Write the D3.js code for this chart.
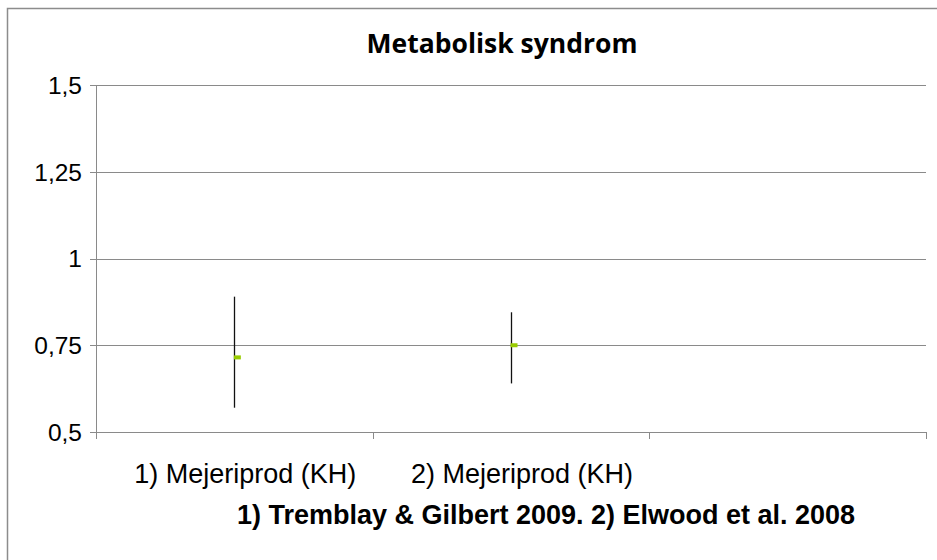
<!DOCTYPE html>
<html>
<head>
<meta charset="utf-8">
<script src="https://cdn.jsdelivr.net/npm/d3@7"></script>
<style>
  body { margin: 0; background: #fff; }
</style>
</head>
<body>
<div class="chart"></div>
<script>
const width = 937, height = 560;

// data
const categories = ["1) Mejeriprod (KH)", "2) Mejeriprod (KH)", ""];
const estimates = [0.715, 0.75];
const lower = [0.57, 0.64];
const upper = [0.89, 0.845];
const yTicks = [0.5, 0.75, 1, 1.25, 1.5];
const yTickLabels = ["0,5", "0,75", "1", "1,25", "1,5"];

const svg = d3.select(".chart").append("svg")
  .attr("width", width)
  .attr("height", height);

// outer frame (left + top edges only show)
svg.append("path")
  .attr("d", "M7.5,560 L7.5,8.5 L937,8.5")
  .attr("stroke", "#8c8c8c")
  .attr("stroke-width", 1.5)
  .attr("fill", "none");

const x = d3.scaleBand()
  .domain(d3.range(categories.length))
  .range([96, 926]);

const y = d3.scaleLinear()
  .domain([0.5, 1.5])
  .range([432, 85]);

// gridlines
svg.selectAll(".grid")
  .data(yTicks)
  .enter().append("line")
  .attr("x1", 90)
  .attr("x2", 926)
  .attr("y1", d => Math.round(y(d)) + 0.5)
  .attr("y2", d => Math.round(y(d)) + 0.5)
  .attr("stroke", "#8a8a8a")
  .attr("stroke-width", 1);

// y axis line
svg.append("line")
  .attr("x1", 96.5).attr("x2", 96.5)
  .attr("y1", y(1.5)).attr("y2", y(0.5) + 1)
  .attr("stroke", "#8a8a8a");

// x axis ticks at band edges
const edges = x.domain().map(i => x(i)).concat([x.range()[1]]);
svg.selectAll(".xtick")
  .data(edges)
  .enter().append("line")
  .attr("x1", d => Math.round(d) + 0.5)
  .attr("x2", d => Math.round(d) + 0.5)
  .attr("y1", y(0.5))
  .attr("y2", y(0.5) + 7)
  .attr("stroke", "#8a8a8a");

// y labels
svg.selectAll(".ylab")
  .data(yTicks)
  .enter().append("text")
  .attr("x", 82)
  .attr("y", d => y(d))
  .attr("dy", "0.36em")
  .attr("text-anchor", "end")
  .attr("font-family", "Liberation Sans, Arial, sans-serif")
  .attr("font-size", 24.5)
  .attr("fill", "#000")
  .text((d, i) => yTickLabels[i]);

// category labels
svg.selectAll(".xlab")
  .data(categories)
  .enter().append("text")
  .attr("x", (d, i) => x(i) + x.bandwidth() / 2 + 11)
  .attr("y", 483)
  .attr("text-anchor", "middle")
  .attr("font-family", "Liberation Sans, Arial, sans-serif")
  .attr("font-size", 27)
  .attr("fill", "#000")
  .text(d => d);

// error bars
svg.selectAll(".err")
  .data(estimates)
  .enter().append("line")
  .attr("x1", (d, i) => Math.round(x(i) + x.bandwidth() / 2) + 0.5)
  .attr("x2", (d, i) => Math.round(x(i) + x.bandwidth() / 2) + 0.5)
  .attr("y1", (d, i) => y(upper[i]))
  .attr("y2", (d, i) => y(lower[i]))
  .attr("stroke", "#111")
  .attr("stroke-width", 1.3);

// point markers
svg.selectAll(".pt")
  .data(estimates)
  .enter().append("rect")
  .attr("x", (d, i) => x(i) + x.bandwidth() / 2 - 0.5)
  .attr("y", d => y(d) - 2)
  .attr("width", 7)
  .attr("height", 4)
  .attr("fill", "#99cc00");

// title
svg.append("text")
  .attr("x", 502)
  .attr("y", 53)
  .attr("text-anchor", "middle")
  .attr("font-family", "Open Sans, sans-serif")
  .attr("font-weight", "bold")
  .attr("font-size", 26.5)
  .attr("fill", "#000")
  .text("Metabolisk syndrom");

// source note
svg.append("text")
  .attr("x", 546)
  .attr("y", 524)
  .attr("text-anchor", "middle")
  .attr("font-family", "Liberation Sans, Arial, sans-serif")
  .attr("font-weight", "bold")
  .attr("font-size", 27)
  .attr("fill", "#000")
  .text("1) Tremblay & Gilbert 2009. 2) Elwood et al. 2008");
</script>
</body>
</html>
